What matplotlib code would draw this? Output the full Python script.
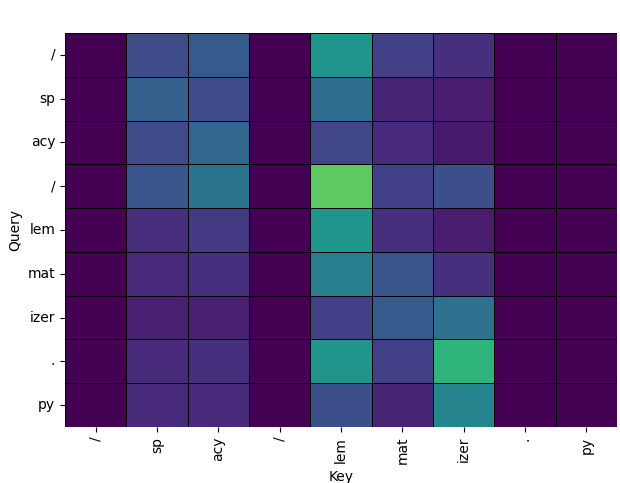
import matplotlib as mpl
mpl.use('Agg')
import numpy as np
import matplotlib.pyplot as plt
import seaborn as sns

keys = ["/", "sp", "acy", "/", "lem", "mat", "izer", ".", "py"]
queries = ["/", "sp", "acy", "/", "lem", "mat", "izer", ".", "py"]
weights = np.array([
    [0, .23, .28, 0, .52, .19, .14, 0, 0],
    [0, .30, .23, 0, .35, .10, .08, 0, 0],
    [0, .23, .33, 0, .21, .12, .07, 0, 0],
    [0, .26, .38, 0, .75, .19, .24, 0, 0],
    [0, .13, .17, 0, .52, .14, .08, 0, 0],
    [0, .11, .14, 0, .42, .26, .14, 0, 0],
    [0, .09, .09, 0, .19, .28, .37, 0, 0],
    [0, .12, .14, 0, .52, .19, .65, 0, 0],
    [0, .12, .12, 0, .24, .10, .45, 0, 0],
])

fig = plt.figure(figsize=(6.2, 4.83), dpi=100)
ax = fig.add_axes([65/620, 1-427/483, 552/620, 394/483])
sns.heatmap(weights, ax=ax, cmap='viridis', vmin=0, vmax=1, cbar=False,
            linewidths=0.5, linecolor='black',
            xticklabels=keys, yticklabels=queries)
ax.tick_params(axis='x', rotation=90)
ax.tick_params(axis='y', rotation=0)
ax.set_xlabel("Key")
ax.set_ylabel("Query")
ax.set_title("Attention by Query", pad=28.5, fontsize=14)
fig.savefig("out.png")
